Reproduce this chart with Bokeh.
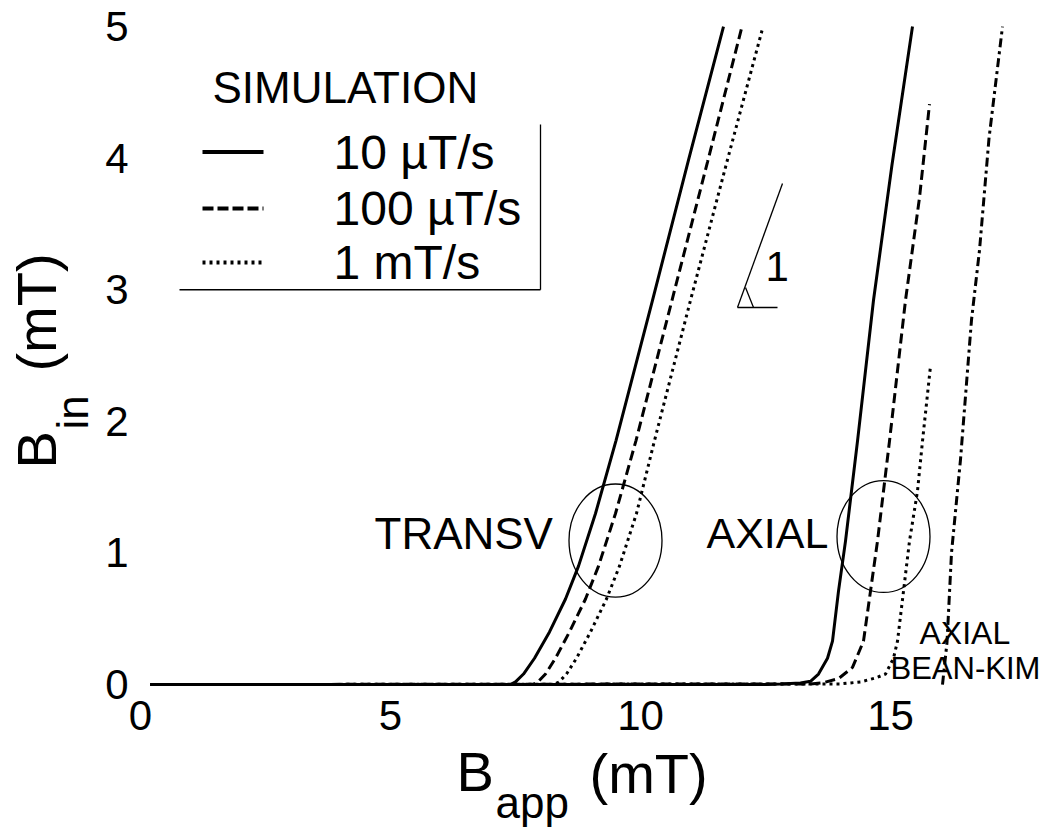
import math
from bokeh.plotting import figure
from bokeh.models import Range1d, FixedTicker, Label, LinearAxis
from bokeh.embed import file_html
from bokeh.resources import INLINE

# ---------------- data ----------------
x_ticks = [0, 5, 10, 15]
y_ticks = [0, 1, 2, 3, 4, 5]

# TRANSV simulations
transv_10_x = [0.2, 7.4, 7.5, 7.66, 7.88, 8.18, 8.5, 8.76, 9.1, 9.51, 10.24, 10.97, 11.66]
transv_10_y = [0.0, 0.0, 0.02, 0.08, 0.2, 0.4, 0.65, 0.9, 1.3, 1.854, 2.92, 4.0, 5.0]
transv_100_x = [0.2, 7.85, 7.95, 8.1, 8.3, 8.58, 8.9, 9.16, 9.5, 9.91, 10.63, 11.34, 12.03]
transv_100_y = [0.0, 0.0, 0.02, 0.08, 0.2, 0.4, 0.65, 0.9, 1.3, 1.854, 2.92, 3.97, 5.0]
transv_1000_x = [0.2, 8.27, 8.37, 8.52, 8.72, 9.0, 9.32, 9.58, 9.92, 10.28, 11.0, 11.72, 12.43]
transv_1000_y = [0.0, 0.0, 0.02, 0.08, 0.2, 0.4, 0.65, 0.9, 1.3, 1.854, 2.92, 3.96, 4.97]

# AXIAL simulations
axial_10_x = [0.2, 12.5, 12.8, 13.2, 13.4, 13.56, 13.74, 13.84, 13.96, 14.1, 14.34, 14.66, 15.03, 15.44]
axial_10_y = [0.0, 0.0, 0.005, 0.012, 0.025, 0.08, 0.2, 0.33, 0.71, 1.09, 1.85, 2.92, 3.95, 5.0]
axial_100_x = [0.2, 13.4, 13.66, 13.96, 14.24, 14.46, 14.6, 14.74, 14.98, 15.3, 15.58, 15.78]
axial_100_y = [0.0, 0.005, 0.015, 0.045, 0.13, 0.33, 0.71, 1.09, 1.85, 2.92, 3.7, 4.41]
axial_1000_x = [0.2, 14.0, 14.4, 14.7, 14.9, 15.06, 15.14, 15.26, 15.38, 15.54, 15.64, 15.8]
axial_1000_y = [0.0, 0.005, 0.02, 0.05, 0.08, 0.2, 0.33, 0.71, 1.09, 1.47, 1.85, 2.42]

# AXIAL Bean-Kim
beankim_x = [16.04, 16.13, 16.22, 16.4, 16.62, 16.78, 16.97, 17.24]
beankim_y = [0.0, 0.32, 1.0, 1.71, 2.77, 3.3, 4.15, 5.0]

# ellipses marking the groups
ellipse_x = [9.5, 14.86]
ellipse_y = [1.094, 1.125]
ellipse_w = [1.86, 1.86]
ellipse_h = [0.86, 0.85]

# slope-1 triangle
slope_x = [11.94, 12.84]
slope_y = [2.865, 3.807]
base_x = [11.94, 12.74]
base_y = [2.865, 2.865]
mark_x = [12.1, 12.26]
mark_y = [3.017, 2.865]

legend_labels = ["10 µT/s", "100 µT/s", "1 mT/s"]
legend_dash = ["solid", "11 4", "3 4"]
legend_row_y = [4.046, 3.617, 3.207]

FONT = "Liberation Sans"

p = figure(width=1044, height=830,
           x_range=Range1d(-2.8, 18.08), y_range=Range1d(-1.109, 5.198),
           x_axis_location=None, y_axis_location=None,
           output_backend="svg", toolbar_location=None,
           min_border=0, min_border_left=0, min_border_right=0,
           min_border_top=0, min_border_bottom=0)

p.xgrid.visible = False
p.ygrid.visible = False
p.outline_line_color = None
p.background_fill_color = "white"
p.border_fill_color = "white"

xaxis = LinearAxis(fixed_location=0, ticker=FixedTicker(ticks=x_ticks))
yaxis = LinearAxis(fixed_location=0, ticker=FixedTicker(ticks=y_ticks))
for ax in (xaxis, yaxis):
    ax.axis_line_color = None
    ax.major_tick_line_color = None
    ax.minor_tick_line_color = None
    ax.major_tick_out = 0
    ax.major_tick_in = 0
    ax.major_label_text_font = FONT
    ax.major_label_text_font_size = "42px"
    ax.major_label_text_color = "black"
xaxis.major_label_standoff = 16
yaxis.major_label_standoff = 12
p.add_layout(xaxis, "below")
p.add_layout(yaxis, "left")

# curves
p.line(transv_10_x, transv_10_y, line_width=3, color="black")
p.line(transv_100_x, transv_100_y, line_width=3, color="black", line_dash="10 5")
p.line(transv_1000_x, transv_1000_y, line_width=3, color="black", line_dash="3 4")
p.line(axial_10_x, axial_10_y, line_width=3, color="black")
p.line(axial_100_x, axial_100_y, line_width=3, color="black", line_dash="10 5")
p.line(axial_1000_x, axial_1000_y, line_width=3, color="black", line_dash="3 4")
p.line(beankim_x, beankim_y, line_width=3, color="black", line_dash="9 4 3 4")

# ellipses
p.ellipse(x=ellipse_x, y=ellipse_y, width=ellipse_w, height=ellipse_h,
          fill_color=None, line_color="black", line_width=1.3)

# slope triangle
p.line(slope_x, slope_y, line_width=1.3, color="black")
p.line(base_x, base_y, line_width=1.5, color="black")
p.line(mark_x, mark_y, line_width=1.3, color="black")

# legend box
p.line([8.0, 8.0], [4.255, 3.0], line_width=1.3, color="black")
p.line([0.78, 8.0], [3.0, 3.0], line_width=1.3, color="black")
for yl, dash in zip(legend_row_y, legend_dash):
    p.line([1.24, 2.46], [yl, yl], line_width=4, color="black", line_dash=dash)


def lab(x, y, t, size, angle=0.0, align="left"):
    p.add_layout(Label(x=x, y=y, text=t, text_font=FONT,
                       text_font_size=f"{size}px", text_color="black",
                       angle=angle, text_align=align, text_baseline="middle"))


lab(1.44, 4.536, "SIMULATION", 44)
for yt, t in zip(legend_row_y, legend_labels):
    lab(3.86, yt, t, 48)

lab(4.68, 1.151, "TRANSV", 44)
lab(11.32, 1.151, "AXIAL", 43)
lab(15.58, 0.391, "AXIAL", 32)
lab(15.0, 0.125, "BEAN-KIM", 31)
lab(12.5, 3.18, "1", 42)

# axis titles
lab(6.32, -0.661, "B", 56)
lab(7.1, -0.897, "app", 44)
lab(8.98, -0.673, "(mT)", 56)

lab(-2.088, 1.641, "B", 56, angle=math.pi / 2)
lab(-1.366, 1.938, "in", 44, angle=math.pi / 2)
lab(-2.08, 2.378, "(mT)", 56, angle=math.pi / 2)

open("out.html", "w").write(file_html(p, INLINE))
